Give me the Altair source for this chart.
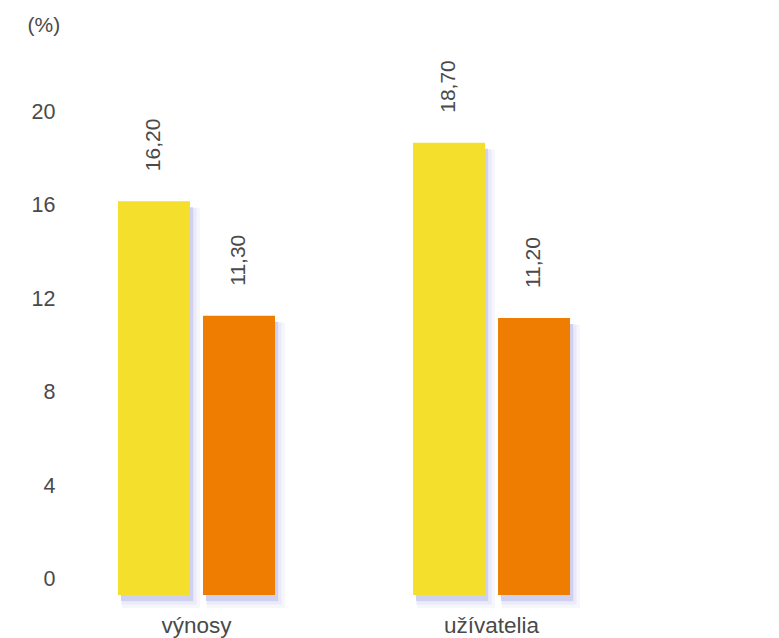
import altair as alt
import pandas as pd

categories = ["výnosy", "užívatelia"]
series = ["A", "B"]
values_a = [16.20, 18.70]
values_b = [11.30, 11.20]
y_ticks = [0, 4, 8, 12, 16, 20]

rows = []
for i, c in enumerate(categories):
    for s, v in zip(series, [values_a[i], values_b[i]]):
        rows.append({"cat": c, "ser": s, "val": v, "lbl": f"{v:.2f}".replace(".", ",")})
df = pd.DataFrame(rows)

FONT = "Liberation Sans"
TXT = "#4a4a4a"
W, H = 572, 541
BW = 157  # group bandwidth in px

x_enc = alt.X("cat:N", sort=categories,
              scale=alt.Scale(paddingInner=0.468, paddingOuter=0.2034),
              axis=alt.Axis(title=None, labelAngle=0, ticks=False, domain=False,
                            labelFontSize=22.5, labelFont=FONT, labelColor=TXT,
                            labelPadding=19, labelFontWeight="normal"))


def xo(shift):
    return alt.XOffset("ser:N", sort=series,
                       scale=alt.Scale(type="band", paddingInner=0.153, paddingOuter=0,
                                       range=[shift, BW + shift]))


DOM = [-0.65, 22.5]
y_axis = alt.Axis(values=y_ticks, title="(%)", titleAngle=0, titleX=-31, titleY=-29,
                  titleAlign="left", titleBaseline="middle", titleFontSize=21,
                  titleFont=FONT, titleColor=TXT, titleFontWeight="normal",
                  labelFontSize=21.5, labelFont=FONT, labelColor=TXT,
                  ticks=False, domain=False, grid=False, labelPadding=3)


def y_shift(shift):
    return alt.Y("val:Q", scale=alt.Scale(domain=DOM, nice=False, zero=False,
                                          range=[H + shift, shift]), axis=None)


y_main = alt.Y("val:Q", scale=alt.Scale(domain=DOM, nice=False, zero=False), axis=y_axis)
col = alt.Color("ser:N", sort=series,
                scale=alt.Scale(domain=series, range=["#F4E02C", "#EE7D02"]), legend=None)

base = alt.Chart(df)

shadow3 = base.mark_bar(color="#F1F1FB", stroke="#F6F6FD", strokeWidth=6).encode(
    x=x_enc, xOffset=xo(7), y=y_shift(10), y2=alt.datum(-0.65))
shadow2 = base.mark_bar(color="#E2E2F7", stroke="#EAEAF9", strokeWidth=3).encode(
    x=x_enc, xOffset=xo(5), y=y_shift(8), y2=alt.datum(-0.65))
shadow = base.mark_bar(color="#D0D0F0").encode(
    x=x_enc, xOffset=xo(3), y=y_shift(6), y2=alt.datum(-0.65))
bars = base.mark_bar().encode(x=x_enc, xOffset=xo(0), y=y_main, y2=alt.datum(-0.65), color=col)
labels = base.mark_text(angle=270, align="left", baseline="middle", dx=30,
                        fontSize=21, font=FONT, color=TXT).encode(
    x=x_enc, xOffset=xo(0),
    y=alt.Y("val:Q", scale=alt.Scale(domain=DOM, nice=False, zero=False), axis=None),
    text="lbl:N")

chart = alt.layer(shadow3, shadow2, shadow, bars, labels).resolve_scale(
    y="independent", xOffset="independent"
).properties(
    width=W, height=H,
    padding={"left": 58, "top": 54, "right": 149, "bottom": 43},
    autosize=alt.AutoSizeParams(type="none"),
    background="white",
).configure_view(strokeWidth=0, stroke="transparent")

chart.save("out.html", embed_options={"renderer": "svg", "actions": False})
